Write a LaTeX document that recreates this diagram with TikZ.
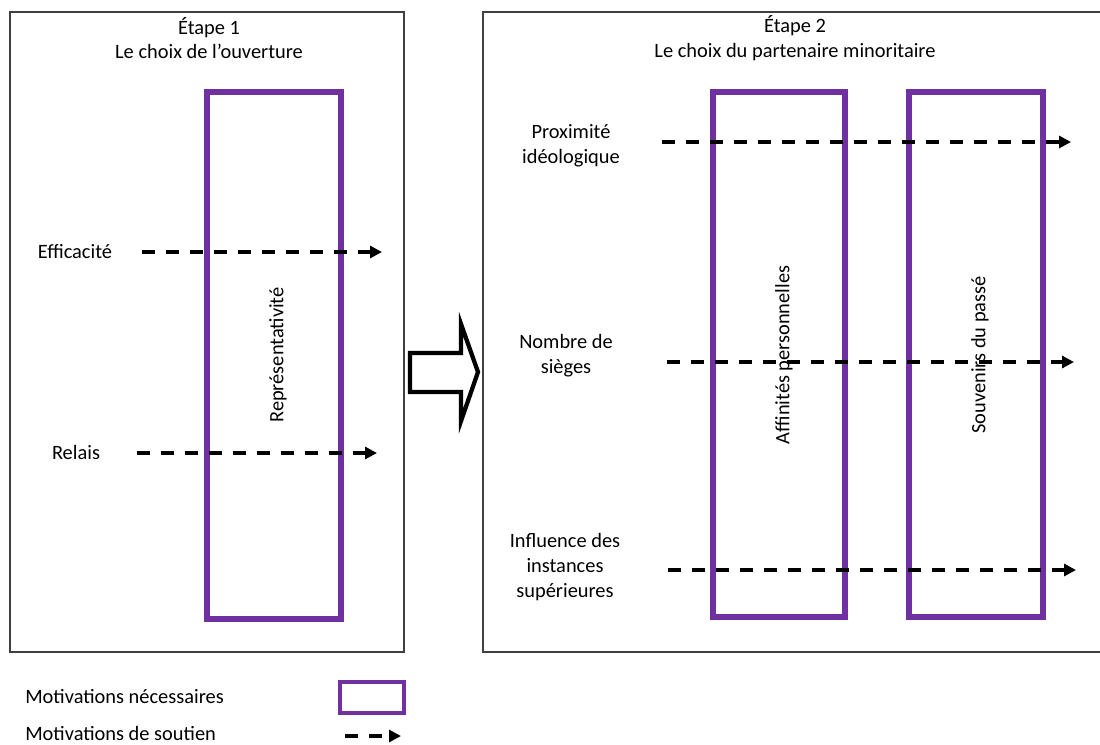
\documentclass[tikz,border=0pt]{standalone}
\usepackage{fontspec}
\setmainfont{Carlito}
\usetikzlibrary{arrows.meta}
\definecolor{motifviolet}{HTML}{7030A0}
\definecolor{cadregris}{HTML}{404040}
\begin{document}
\begin{tikzpicture}[x=0.75pt,y=-0.75pt,
    txt/.style={font=\fontsize{15.3}{18.6}\selectfont,align=center,inner sep=0pt},
    soutien/.style={draw=black,line width=2.7pt,dash pattern=on 10pt off 8pt,
      -{Triangle[length=9pt,width=9pt]}}]
  \useasboundingbox (0,0) rectangle (1100,744);
  \begin{scope}[every node/.style={draw=cadregris,line width=0.9pt,inner sep=0pt}]
    \node (etape1) [minimum width=295.5pt,minimum height=480pt] at (207,332) {};
    \node (etape2) [minimum width=465pt,minimum height=480pt] at (793,332) {};
  \end{scope}
  \begin{scope}[every node/.style={draw=motifviolet,line width=3.9pt,inner sep=0pt,rotate=90}]
    \node (repres) [minimum width=395.25pt,minimum height=100.5pt] at (274,355.5) {};
    \node (affin) [minimum width=393.75pt,minimum height=99pt] at (779,354.5) {};
    \node (souv) [minimum width=393.75pt,minimum height=100.5pt] at (976,354.5) {};
    \node (legnec) [minimum width=23.25pt,minimum height=48pt,line width=3.6pt] at (372,697.5) {};
  \end{scope}
  \begin{scope}[every node/.style={txt}]
    \node (t1) at (209,38) {Étape 1\\Le choix de l’ouverture};
    \node (t2) at (795,38) {Étape 2\\Le choix du partenaire minoritaire};
    \node (effic) at (75,252) {Efficacité};
    \node (relais) at (76,452) {Relais};
    \node (proxi) at (571,146) {Proximité\\idéologique};
    \node (nombre) at (566,356) {Nombre de\\sièges};
    \node (influ) at (565,567) {Influence des\\instances\\supérieures};
    \node (trep) [rotate=90] at (278,355) {Représentativité};
    \node (taff) [rotate=90] at (784,355) {Affinités personnelles};
    \node (tsouv) [rotate=90] at (980,355) {Souvenirs du passé};
    \node (lnec) [anchor=west] at (25,697) {Motivations nécessaires};
    \node (lsout) [anchor=west] at (25,733) {Motivations de soutien};
  \end{scope}
  \coordinate (e1) at (142,252);
  \coordinate (e2) at (382,252);
  \coordinate (r1) at (137,453);
  \coordinate (r2) at (377,453);
  \coordinate (p1) at (662,142);
  \coordinate (p2) at (1071,142);
  \coordinate (n1) at (667,362);
  \coordinate (n2) at (1074,362);
  \coordinate (i1) at (668,570);
  \coordinate (i2) at (1076,570);
  \coordinate (s1) at (345,736);
  \coordinate (s2) at (401,736);
  \begin{scope}[every edge/.style={soutien}]
    \path (e1) edge (e2);
    \path (r1) edge (r2);
    \path (p1) edge (p2);
    \path (n1) edge (n2);
    \path (i1) edge (i2);
    \path (s1) edge (s2);
  \end{scope}
  \draw[line width=3.2pt,line join=miter] (410,353) -- (461,353) -- (461,324) -- (478,372)
    -- (461,421) -- (461,392) -- (410,392) -- cycle;
\end{tikzpicture}
\end{document}
